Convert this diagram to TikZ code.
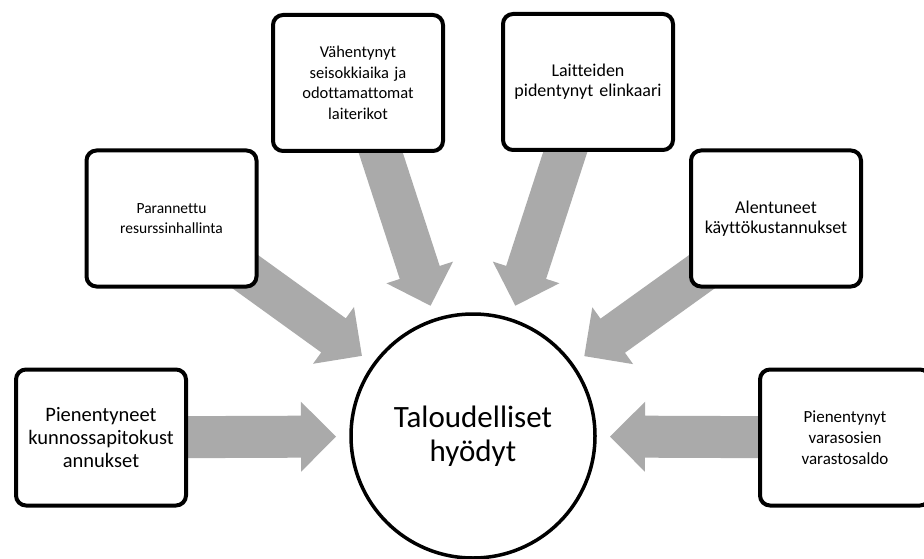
\documentclass[tikz,border=0pt]{standalone}
\usepackage{fontspec}
\setmainfont{Carlito}[Ligatures={NoCommon}]
\usetikzlibrary{calc,backgrounds}

\definecolor{flowgray}{RGB}{170,170,170}

\tikzset{
  benefit/.style={draw=black, line width=4pt, fill=white, rounded corners=10pt,
    minimum width=170pt, minimum height=136pt, inner sep=4pt, align=center,
    text width=160pt},
  hub/.style={draw=black, line width=3.5pt, fill=white, circle,
    minimum size=244pt, inner sep=0pt, align=center,
    font=\fontsize{31}{34}\selectfont},
  flow/.style={fill=flowgray, draw=none},
}

% Block arrow from a benefit box towards the hub; the tip stops short of the hub
\newcommand\feedarrow[2]{%
  \path ($(#2.center)!137pt!(#1.center)$) coordinate (#1-tip)
        ($(#1-tip)!35pt!(#1.center)$) coordinate (#1-base);
  \fill[flow] ($(#1.center)!21pt!90:(#1-tip)$)
    -- ($(#1-base)!21pt!90:(#1-tip)$)
    -- ($(#1-base)!35pt!90:(#1-tip)$)
    -- (#1-tip)
    -- ($(#1-base)!35pt!-90:(#1-tip)$)
    -- ($(#1-base)!21pt!-90:(#1-tip)$)
    -- ($(#1.center)!21pt!-90:(#1-tip)$)
    -- cycle;
}

\begin{document}
\begin{tikzpicture}[x=1pt, y=-1pt]
\useasboundingbox (0,0) rectangle (924,559);

\node[hub] (hub) at (473,436) {Taloudelliset\\hyödyt};

\node[benefit, font=\fontsize{20.5}{23.3}\selectfont] (b1) at (101,437.5)
  {Pienentyneet\\kunnossapitokust\\annukset};
\node[benefit, font=\fontsize{15.5}{20}\selectfont] (b2) at (171.5,218.5)
  {Parannettu\\resurssinhallinta};
\node[benefit, font=\fontsize{16.5}{20.5}\selectfont] (b3) at (358,83)
  {Vähentynyt\\seisokkiaika ja\\odottamattomat\\laiterikot};
\node[benefit, font=\fontsize{18}{20}\selectfont] (b4) at (588,82)
  {Laitteiden\\pidentynyt elinkaari};
\node[benefit, font=\fontsize{18}{19.5}\selectfont] (b5) at (776,218.5)
  {Alentuneet\\käyttökustannukset};
\node[benefit, font=\fontsize{17}{21}\selectfont] (b6) at (845,437.5)
  {Pienentynyt\\varasosien\\varastosaldo};

\begin{scope}[on background layer]
  \fill[white] (0,0) rectangle (924,559);
  \foreach \b in {b1,b2,b3,b4,b5,b6} { \feedarrow{\b}{hub} }
\end{scope}
\end{tikzpicture}
\end{document}
